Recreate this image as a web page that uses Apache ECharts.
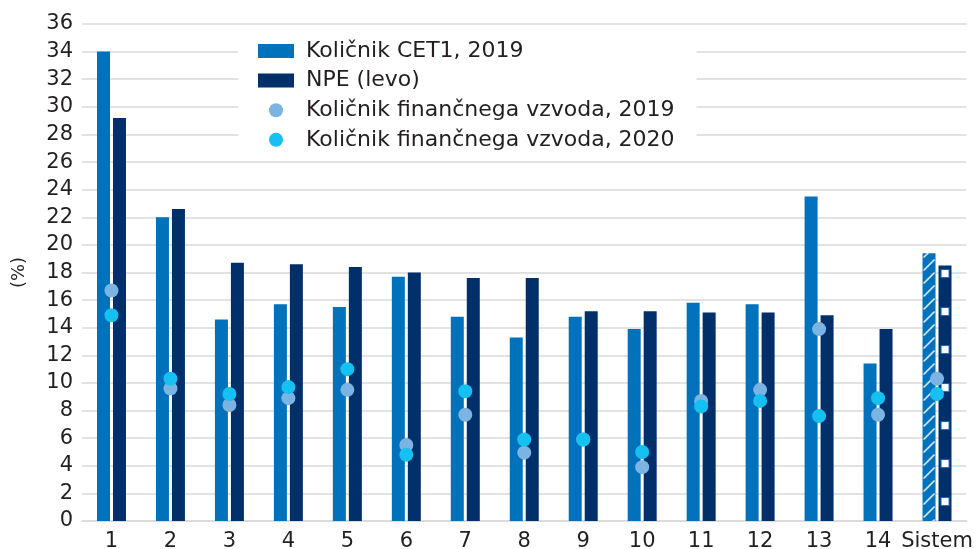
<!DOCTYPE html>
<html>
<head>
<meta charset="utf-8">
<script src="https://cdn.jsdelivr.net/npm/echarts@6/dist/echarts.min.js"></script>
<style>
  html, body { margin: 0; padding: 0; background: #fff; }
  #chart { width: 979px; height: 549px; }
</style>
</head>
<body>
<div id="chart"></div>
<script>
const categories = ['1', '2', '3', '4', '5', '6', '7', '8', '9', '10', '11', '12', '13', '14', 'Sistem']
const cet1 = [34.0, 22.0, 14.6, 15.7, 15.5, 17.7, 14.8, 13.3, 14.8, 13.9, 15.8, 15.7, 23.5, 11.4, 19.4]
const npe = [29.2, 22.6, 18.7, 18.6, 18.4, 18.0, 17.6, 17.6, 15.2, 15.2, 15.1, 15.1, 14.9, 13.9, 18.5]
const lev2019 = [16.7, 9.6, 8.4, 8.9, 9.5, 5.5, 7.7, 4.95, 5.9, 3.9, 8.7, 9.5, 13.9, 7.7, 10.3]
const lev2020 = [14.9, 10.3, 9.2, 9.7, 11.0, 4.8, 9.4, 5.9, 5.9, 5.0, 8.3, 8.7, 7.6, 8.9, 9.2]
const seriesNames = ['Količnik CET1, 2019', 'NPE (levo)', 'Količnik finančnega vzvoda, 2019', 'Količnik finančnega vzvoda, 2020']
const yMin = 0, yMax = 36, yStep = 2

const C_CET1 = '#0071bb'
const C_NPE = '#002f6a'
const C_L19 = '#7bb4e3'
const C_L20 = '#16c0f0'
const TXT = '#231f20'
const FONT = 'DejaVu Sans'
const BAR_W = 13

const chart = echarts.init(document.getElementById('chart'))

// tiles for the "Sistem" bars
const hatchTile = () => {
  const c = document.createElement('canvas')
  c.width = 13; c.height = 13
  const g = c.getContext('2d')
  g.fillStyle = C_CET1
  g.fillRect(0, 0, 13, 13)
  g.strokeStyle = '#fff'
  g.lineWidth = 1.4
  g.beginPath(); g.moveTo(1, 12.5); g.lineTo(12, 1.5); g.stroke()
  return c
}
const squareTile = () => {
  const c = document.createElement('canvas')
  c.width = 13; c.height = 38
  const g = c.getContext('2d')
  g.fillStyle = C_NPE
  g.fillRect(0, 0, 13, 38)
  g.fillStyle = C_CET1
  g.fillRect(2, 15, 9, 9)
  g.fillStyle = '#fff'
  g.fillRect(3, 16, 7, 7)
  return c
}

const getOption = (sistemCet1Color, sistemNpeColor) => ({
  animation: false,
  grid: { left: 82, right: 12.5, top: 24, bottom: 28, outerBoundsMode: 'none', containLabel: false },
  legend: {
    orient: 'vertical',
    left: 238, top: 29,
    padding: [11, 22, 9, 20],
    backgroundColor: '#fff',
    itemWidth: 36, itemHeight: 14,
    itemGap: 7.6,
    textStyle: { color: TXT, fontFamily: FONT, fontSize: 22, lineHeight: 20, padding: [0, 0, 0, 7] },
    data: [
      { name: seriesNames[0], icon: 'rect' },
      { name: seriesNames[1], icon: 'rect' },
      { name: seriesNames[2], icon: 'circle' },
      { name: seriesNames[3], icon: 'circle' }
    ]
  },
  xAxis: {
    type: 'category',
    data: categories,
    axisLine: { show: true, lineStyle: { color: '#d9d9d9', width: 1.5 } },
    axisTick: { show: false },
    axisLabel: { interval: 0, color: TXT, fontFamily: FONT, fontSize: 21, margin: 10 }
  },
  yAxis: {
    type: 'value',
    min: yMin, max: yMax, interval: yStep,
    name: '(%)',
    nameLocation: 'middle',
    nameRotate: 90,
    nameGap: 54,
    nameTextStyle: { color: TXT, fontFamily: FONT, fontSize: 18 },
    axisLine: { show: false },
    axisTick: { show: false },
    splitLine: { lineStyle: { color: '#d9d9d9', width: 1.5 } },
    axisLabel: { color: TXT, fontFamily: FONT, fontSize: 21, margin: 9 }
  },
  series: [
    {
      name: seriesNames[0], type: 'bar', barWidth: BAR_W, barGap: '23%',
      itemStyle: { color: C_CET1 },
      data: cet1.map((v, i) => i === cet1.length - 1 && sistemCet1Color ? { value: v, itemStyle: { color: sistemCet1Color } } : v)
    },
    {
      name: seriesNames[1], type: 'bar', barWidth: BAR_W,
      itemStyle: { color: C_NPE },
      data: npe.map((v, i) => i === npe.length - 1 && sistemNpeColor ? { value: v, itemStyle: { color: sistemNpeColor } } : v)
    },
    {
      name: seriesNames[2], type: 'scatter', symbolSize: 14, z: 3,
      itemStyle: { color: C_L19, opacity: 1 },
      data: lev2019
    },
    {
      name: seriesNames[3], type: 'scatter', symbolSize: 14, z: 4,
      itemStyle: { color: C_L20, opacity: 1 },
      data: lev2020
    }
  ]
})

chart.setOption(getOption())

// line the pattern tiles up with the Sistem bars
const cx = chart.convertToPixel({ xAxisIndex: 0 }, categories.length - 1)
const left1 = cx - 14.5
const left2 = cx + 1.5
const yTop = chart.convertToPixel({ yAxisIndex: 0 }, yMax)
chart.setOption(getOption(
  { image: hatchTile(), repeat: 'repeat', x: left1, y: yTop },
  { image: squareTile(), repeat: 'repeat', x: left2, y: yTop + 230 }
))
</script>
</body>
</html>
